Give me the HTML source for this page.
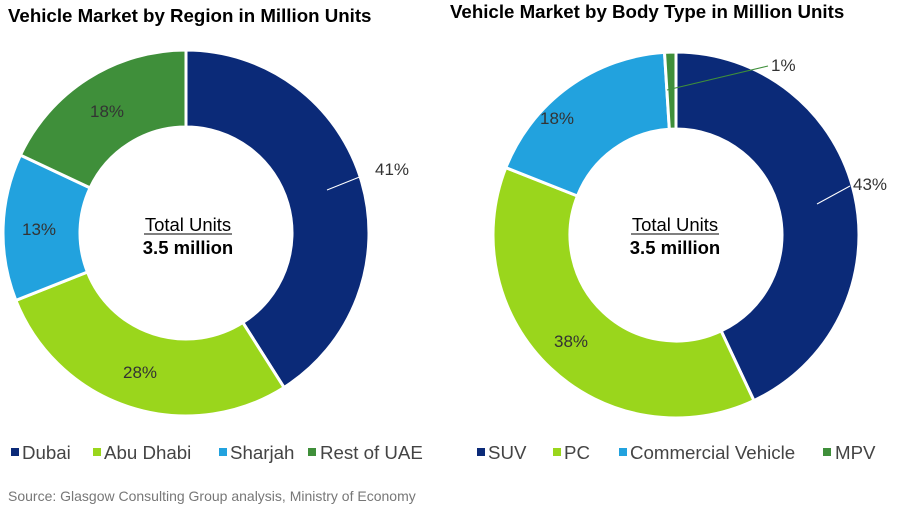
<!DOCTYPE html>
<html><head><meta charset="utf-8"><style>
body{margin:0;background:#fff;width:900px;height:509px;overflow:hidden;font-family:"Liberation Sans",Arial,sans-serif;}
</style></head><body>
<svg id="s" width="900" height="509" xmlns="http://www.w3.org/2000/svg" font-family="Liberation Sans, Arial, sans-serif">
<text x="8" y="22" font-size="18.7" font-weight="bold" fill="#000">Vehicle Market by Region in Million Units</text>
<text x="450" y="18" font-size="18.7" font-weight="bold" fill="#000">Vehicle Market by Body Type in Million Units</text>
<g id="d1"></g><g id="d2"></g>
<g font-size="17" fill="#333">
<line x1="327" y1="190" x2="372" y2="172" stroke="#fff" stroke-width="1"/>
<text x="375" y="175">41%</text>
<text x="123" y="378">28%</text>
<text x="22" y="235">13%</text>
<text x="90" y="117">18%</text>
<line x1="817" y1="204" x2="850" y2="186" stroke="#fff" stroke-width="1"/>
<text x="853" y="190">43%</text>
<text x="554" y="347">38%</text>
<text x="540" y="124">18%</text>
<line x1="667" y1="90" x2="768" y2="66" stroke="#3f8f3a" stroke-width="1"/>
<text x="771" y="71">1%</text>
</g>
<g font-size="18.5" fill="#000" text-anchor="middle">
<text x="188" y="231">Total Units</text>
<line x1="144" y1="234" x2="232" y2="234" stroke="#000" stroke-width="1"/>
<text x="188" y="254" font-weight="bold">3.5 million</text>
<text x="675" y="231">Total Units</text>
<line x1="631" y1="234" x2="719" y2="234" stroke="#000" stroke-width="1"/>
<text x="675" y="254" font-weight="bold">3.5 million</text>
</g>
<g font-size="18.7" fill="#444">
<rect x="11" y="448" width="8" height="8" fill="#0b2a78"/><text x="22" y="459">Dubai</text>
<rect x="93" y="448" width="8" height="8" fill="#9ad61c"/><text x="104" y="459">Abu Dhabi</text>
<rect x="219" y="448" width="8" height="8" fill="#22a2de"/><text x="230" y="459">Sharjah</text>
<rect x="308" y="448" width="8" height="8" fill="#3f8f3a"/><text x="320" y="459">Rest of UAE</text>
<rect x="477" y="448" width="8" height="8" fill="#0b2a78"/><text x="488" y="459">SUV</text>
<rect x="553" y="448" width="8" height="8" fill="#9ad61c"/><text x="564" y="459">PC</text>
<rect x="619" y="448" width="8" height="8" fill="#22a2de"/><text x="630" y="459">Commercial Vehicle</text>
<rect x="823" y="448" width="8" height="8" fill="#3f8f3a"/><text x="835" y="459">MPV</text>
</g>
<text x="8" y="501" font-size="14" fill="#777">Source: Glasgow Consulting Group analysis, Ministry of Economy</text>
</svg>
<script>
function donut(id,cx,cy,R,r,vals,cols){
 var g=document.getElementById(id),a=0,h='';
 for(var i=0;i<vals.length;i++){
  var a0=a*2*Math.PI,a1=(a+vals[i])*2*Math.PI;a+=vals[i];
  function p(rad,t){return [cx+rad*Math.sin(t),cy-rad*Math.cos(t)];}
  var A=p(R,a0),B=p(R,a1),C=p(r,a1),D=p(r,a0),l=(a1-a0)>Math.PI?1:0;
  h+='<path d="M'+A+' A'+R+','+R+' 0 '+l+' 1 '+B+' L'+C+' A'+r+','+r+' 0 '+l+' 0 '+D+'Z" fill="'+cols[i]+'" stroke="#fff" stroke-width="3"/>';
 }
 g.innerHTML=h;
}
var c=['#0b2a78','#9ad61c','#22a2de','#3f8f3a'];
donut('d1',186,233,183,106,[.41,.28,.13,.18],c);
donut('d2',676,235,183,106,[.43,.38,.18,.01],c);
</script>
</body></html>
